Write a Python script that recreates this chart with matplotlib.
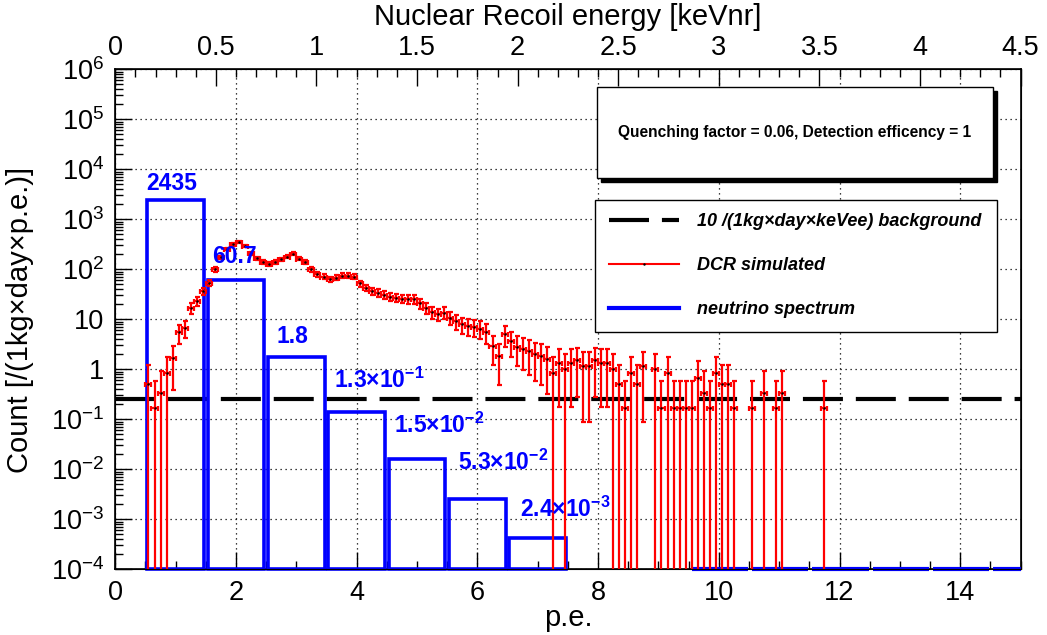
#!/usr/bin/env python3

import numpy as np
import matplotlib.pyplot as plt
from matplotlib.lines import Line2D
from matplotlib.patches import Rectangle
from matplotlib.ticker import MultipleLocator, LogLocator, FuncFormatter, NullFormatter


##### data #####
# DCR simulated, 0.1 p.e. bins: bin centre and content (empty bins left out)
DCR_PE = [
    0.55, 0.65, 0.75, 0.85, 0.95, 1.05, 1.15, 1.25, 1.35, 1.45,
    1.55, 1.65, 1.75, 1.85, 1.95, 2.05, 2.15, 2.25, 2.35, 2.45,
    2.55, 2.65, 2.75, 2.85, 2.95, 3.05, 3.15, 3.25, 3.35, 3.45,
    3.55, 3.65, 3.75, 3.85, 3.95, 4.05, 4.15, 4.25, 4.35, 4.45,
    4.55, 4.65, 4.75, 4.85, 4.95, 5.05, 5.15, 5.25, 5.35, 5.45,
    5.55, 5.65, 5.75, 5.85, 5.95, 6.05, 6.15, 6.25, 6.35, 6.45,
    6.55, 6.65, 6.75, 6.85, 6.95, 7.05, 7.15, 7.25, 7.35, 7.45,
    7.55, 7.65, 7.75, 7.85, 7.95, 8.05, 8.15, 8.25, 8.35, 8.45,
    8.55, 8.65, 8.75, 8.95, 9.05, 9.15, 9.25, 9.35, 9.45, 9.55,
    9.65, 9.75, 9.85, 9.95, 10.05, 10.15, 10.25, 10.55, 10.75, 10.95,
    11.05, 11.75,
]
DCR_COUNT = [
    0.5, 0.167, 0.333, 0.833, 1.67, 5.5, 6.8, 17, 23, 36,
    54, 100, 175, 255, 316, 353, 292, 210, 165, 140,
    126, 140, 158, 180, 206, 164, 142, 100, 79, 71,
    63, 68, 74, 74, 71, 52, 43, 37, 34, 31,
    28, 27, 26, 25, 25, 21, 17, 14, 12.6, 13.6,
    10.8, 9.2, 7.9, 7.4, 7.1, 6.5, 5.6, 2.9, 1.85, 5.0,
    3.7, 2.84, 2.6, 2.3, 2.0, 1.85, 1.58, 0.833, 1.333, 1.0,
    1.333, 1.5, 1.167, 1.167, 1.5, 1.333, 1.333, 1.0, 0.5, 0.167,
    0.833, 0.5, 1.167, 1.0, 0.167, 0.833, 0.167, 0.167, 0.167, 0.167,
    0.667, 0.333, 0.167, 0.833, 0.5, 0.5, 0.167, 0.167, 0.333, 0.167,
    0.333, 0.167,
]

# neutrino spectrum, 1 p.e. bins
NU_PE = [1, 2, 3, 4, 5, 6, 7]
NU_COUNT = [2435, 60.7, 1.8, 0.14, 0.0164, 0.0025, 0.00043]
NU_TEXT = [
    "2435",
    "60.7",
    "1.8",
    r"1.3×10$^{\mathbf{-1}}$",
    r"1.5×10$^{\mathbf{-2}}$",
    r"5.3×10$^{\mathbf{-2}}$",
    r"2.4×10$^{\mathbf{-3}}$",
]
NU_EMPTY_PE = [10, 11, 12, 13, 14, 15]

BACKGROUND = 0.25


##### plot settings #####
XMIN, XMAX = 0.0, 15.0
YMIN, YMAX = 1e-4, 1e6
KEVNR_MAX = 4.5

# where the bin labels sit (data coords, left / baseline)
NU_TEXT_X = [0.52, 1.6, 2.67, 3.63, 4.61, 5.68, 6.71]
NU_TEXT_Y = [3900, 135, 3.3, 0.42, 0.053, 0.0098, 0.00112]

RED = "#ff0000"
BLUE = "#0000ff"
FONT = "Liberation Sans"

plt.rcParams["font.family"] = [FONT, "DejaVu Sans"]
plt.rcParams["mathtext.fontset"] = "custom"
plt.rcParams["mathtext.rm"] = FONT
plt.rcParams["mathtext.bf"] = FONT + ":bold"
plt.rcParams["mathtext.it"] = FONT + ":italic"


def log_label(v, pos):
    k = int(round(np.log10(v)))
    if k == 0:
        return "1"
    if k == 1:
        return "10"
    return rf"$10^{{{k}}}$"


def plot_spectrum():
    fig = plt.figure(figsize=(10.47, 6.35), dpi=100)
    ax = fig.add_axes([0.1101, 0.1035, 0.8647, 0.7874])

    ax.set_xscale("linear")
    ax.set_yscale("log")
    ax.set_xlim(XMIN, XMAX)
    ax.set_ylim(YMIN, YMAX)

    ##### grid #####
    ax.grid(True, which="major", color="black", linestyle=(0, (1, 3)), linewidth=0.9)
    ax.set_axisbelow(True)

    ##### background line #####
    bg_style = (0, (9.6, 3.1))
    ax.axhline(BACKGROUND, color="black", linewidth=3, linestyle=bg_style, zorder=2)

    ##### neutrino histogram #####
    nu_pe = np.array(NU_PE, dtype=float)
    nu_cnt = np.array(NU_COUNT, dtype=float)
    ax.bar(nu_pe, nu_cnt - YMIN, bottom=YMIN, width=0.94, fill=False,
           edgecolor=BLUE, linewidth=2.6, clip_on=False, zorder=3)
    for c in NU_EMPTY_PE:
        ax.hlines(YMIN, c - 0.45, min(c + 0.48, XMAX), color=BLUE,
                  linewidth=3, clip_on=False, zorder=3)

    ##### DCR simulated #####
    x = np.array(DCR_PE)
    y = np.array(DCR_COUNT)
    err = np.sqrt(y)
    lo = np.minimum(err, y - 1e-7)
    ax.errorbar(x, y, xerr=0.05, yerr=[lo, err], fmt=".", color=RED,
                ecolor=RED, markerfacecolor="black", markeredgecolor="black",
                markersize=1.5, elinewidth=1.6, capsize=1.8, capthick=1.6,
                zorder=4)

    ##### bin labels #####
    for tx, ty, t in zip(NU_TEXT_X, NU_TEXT_Y, NU_TEXT):
        ax.text(tx, ty, t, color=BLUE, fontsize=16.5, fontweight="bold",
                ha="left", va="baseline", zorder=6)

    ##### axes style #####
    ax.xaxis.set_major_locator(MultipleLocator(2))
    ax.xaxis.set_minor_locator(MultipleLocator(0.5))
    ax.yaxis.set_major_locator(LogLocator(base=10, numticks=20))
    ax.yaxis.set_minor_locator(LogLocator(base=10, subs=np.arange(2, 10), numticks=20))
    ax.yaxis.set_major_formatter(FuncFormatter(log_label))
    ax.yaxis.set_minor_formatter(NullFormatter())

    ax.tick_params(which="both", direction="in", top=False, right=False,
                   labelsize=19.5, width=1)
    ax.tick_params(which="major", length=12, pad=8)
    ax.tick_params(which="minor", length=6)
    for s in ax.spines.values():
        s.set_linewidth(1.2)

    ax.set_xlabel("p.e.", fontsize=21, labelpad=-2)
    fig.text(20 / 1047, 1 - 320 / 635, "Count [/(1kg×day×p.e.)]", fontsize=21,
             rotation=90, ha="center", va="center")

    ##### top axis: nuclear recoil energy #####
    top = ax.twiny()
    top.set_xlim(0, KEVNR_MAX)
    top.xaxis.set_major_locator(MultipleLocator(0.5))
    top.xaxis.set_minor_locator(MultipleLocator(0.1))
    top.xaxis.set_major_formatter(FuncFormatter(lambda v, p: f"{v:g}"))
    top.tick_params(which="both", direction="in", labelsize=19.5, width=1)
    top.tick_params(which="major", length=12, pad=6)
    top.tick_params(which="minor", length=6)
    top.set_xlabel("Nuclear Recoil energy [keVnr]", fontsize=21, labelpad=7)
    top.grid(False)

    ##### info box #####
    x0, x1, y0, y1 = 0.532, 0.9695, 0.7826, 0.9646
    sh = 0.0045
    ax.add_patch(Rectangle((x0 + sh, y0 - sh * 1.8), x1 - x0, y1 - y0,
                           transform=ax.transAxes, facecolor="black",
                           edgecolor="black", zorder=7))
    ax.add_patch(Rectangle((x0, y0), x1 - x0, y1 - y0, transform=ax.transAxes,
                           facecolor="white", edgecolor="black", linewidth=1,
                           zorder=8))
    ax.text((x0 + x1) / 2, (y0 + y1) / 2,
            "Quenching factor = 0.06, Detection efficency = 1",
            transform=ax.transAxes, fontsize=11.2, fontweight="bold",
            ha="center", va="center", zorder=9)

    ##### legend #####
    handles = [
        Line2D([], [], color="black", linewidth=3, linestyle=bg_style),
        Line2D([], [], color=RED, linewidth=1.5, marker=".", markersize=1.5,
               markerfacecolor="black", markeredgecolor="black"),
        Line2D([], [], color=BLUE, linewidth=3),
    ]
    labels = [
        "10 /(1kg×day×keVee) background",
        "DCR simulated",
        "neutrino spectrum",
    ]
    leg = ax.legend(handles, labels, loc="upper left",
                    bbox_to_anchor=(0.53, 0.483, 0.444, 0.256), mode="expand",
                    fancybox=False, framealpha=1, edgecolor="black",
                    handlelength=3.9, handletextpad=1.0, labelspacing=1.5,
                    borderpad=0.75, borderaxespad=0,
                    prop={"family": FONT, "weight": "bold", "style": "italic",
                          "size": 13})
    leg.get_frame().set_linewidth(1.0)
    leg.set_zorder(9)

    fig.savefig("out.png", dpi=100)
    plt.close(fig)


if __name__ == "__main__":
    plot_spectrum()
